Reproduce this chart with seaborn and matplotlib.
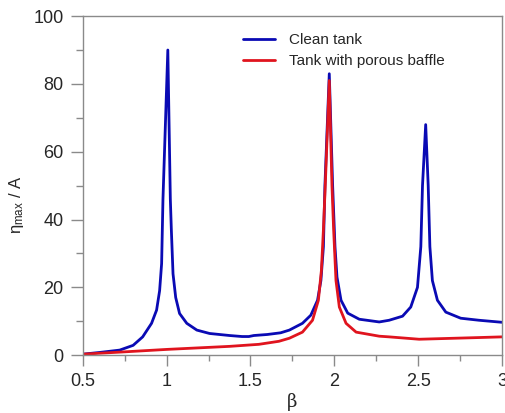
import pandas as pd
import matplotlib
matplotlib.use("Agg")
import matplotlib.pyplot as plt
import seaborn as sns
from matplotlib.ticker import MultipleLocator

# Values
clean_beta = [0.50, 0.60, 0.72, 0.80, 0.857, 0.91, 0.94, 0.958, 0.97, 0.978, 1.007,
              1.022, 1.028, 1.038, 1.054, 1.077, 1.12, 1.18, 1.256, 1.375, 1.45, 1.49,
              1.52, 1.60, 1.68, 1.732, 1.81, 1.86, 1.90, 1.92, 1.935, 1.944, 1.970,
              1.99, 2.004, 2.016, 2.04, 2.08, 2.149, 2.268, 2.327, 2.407, 2.456, 2.496,
              2.516, 2.526, 2.545, 2.56, 2.57, 2.585, 2.615, 2.665, 2.754, 2.863, 3.00]
clean_eta = [0.3, 0.8, 1.5, 2.9, 5.4, 9.4, 13.3, 19, 27, 46, 90,
             46, 37, 24, 17, 12.3, 9.4, 7.4, 6.4, 5.8, 5.5, 5.5,
             5.8, 6.1, 6.6, 7.4, 9.4, 11.8, 16.2, 22, 32, 50, 83,
             50, 32, 23, 16.2, 12.4, 10.6, 9.8, 10.3, 11.5, 14.2, 20,
             32, 50, 68, 50, 32, 22, 16.2, 12.7, 10.9, 10.3, 9.7]

baffle_beta = [0.50, 0.72, 1.00, 1.375, 1.55, 1.67, 1.732, 1.81, 1.87, 1.905, 1.923,
               1.935, 1.946, 1.970, 1.986, 1.996, 2.01, 2.03, 2.07, 2.13, 2.268, 2.327,
               2.506, 2.72, 2.863, 3.00]
baffle_eta = [0.3, 0.9, 1.7, 2.6, 3.2, 4.1, 5.0, 6.8, 10.3, 16.2, 25,
              37, 50, 81, 50, 37, 22, 14.2, 9.4, 6.8, 5.6, 5.4,
              4.7, 5.0, 5.2, 5.4]

labels = ["Clean tank", "Tank with porous baffle"]
colors = ["#0a0ab4", "#e0141e"]

df = pd.concat([
    pd.DataFrame({"beta": clean_beta, "eta": clean_eta, "case": labels[0]}),
    pd.DataFrame({"beta": baffle_beta, "eta": baffle_eta, "case": labels[1]}),
])

sns.set_style("white")
plt.rcParams["font.family"] = ["Liberation Sans", "DejaVu Sans"]
plt.rcParams["mathtext.fontset"] = "custom"
plt.rcParams["mathtext.rm"] = "Liberation Sans"
plt.rcParams["mathtext.it"] = "Liberation Sans"

fig = plt.figure(figsize=(5.05, 4.13), dpi=100)
ax = fig.add_axes([0.164, 0.140, 0.830, 0.821])

sns.lineplot(data=df, x="beta", y="eta", hue="case", palette=colors,
             sort=False, estimator=None, linewidth=2.0, ax=ax)

ax.set_xlim(0.5, 3)
ax.set_ylim(0, 100)
ax.xaxis.set_major_locator(MultipleLocator(0.5))
ax.xaxis.set_minor_locator(MultipleLocator(0.25))
ax.yaxis.set_major_locator(MultipleLocator(20))
ax.yaxis.set_minor_locator(MultipleLocator(10))
ax.set_xticks([0.5, 1, 1.5, 2, 2.5, 3])
ax.set_xticklabels(["0.5", "1", "1.5", "2", "2.5", "3"])

for s in ax.spines.values():
    s.set_color("#8a8a8a")
    s.set_linewidth(1.0)
ax.tick_params(axis="both", which="both", direction="out", color="#8a8a8a",
               width=1.0, labelsize=13, pad=5, bottom=True, left=True)
ax.tick_params(axis="y", which="major", length=9)
ax.tick_params(axis="y", which="minor", length=5)
ax.tick_params(axis="x", which="major", length=8)
ax.tick_params(axis="x", which="minor", length=4)

ax.set_xlabel("\u03b2", fontsize=13, family=["DejaVu Serif"], labelpad=2)
ax.set_ylabel(r"$\eta_{max}$ / A", fontsize=12)
ax.yaxis.set_label_coords(-0.135, 0.445)

ax.legend(title=None, frameon=False, loc="upper left", bbox_to_anchor=(0.35, 0.99),
          fontsize=11, handlelength=2.1, handletextpad=0.9, labelspacing=0.45)

fig.savefig("out.png", dpi=100)
